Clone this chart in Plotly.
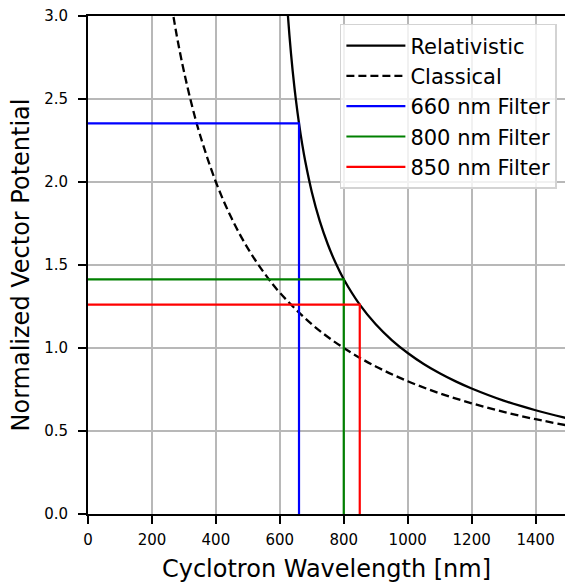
import plotly.graph_objects as go

# Relativistic curve
rel_x = [620, 625, 630, 635, 640, 645, 650, 660, 670, 680, 700, 725, 750, 775, 800,
         850, 900, 950, 1000, 1050, 1100, 1150, 1200, 1300, 1400, 1500]
rel_y = [3.15, 3.01, 2.885, 2.773, 2.673, 2.582, 2.499, 2.353, 2.228, 2.120, 1.940,
         1.764, 1.625, 1.510, 1.414, 1.261, 1.143, 1.048, 0.970, 0.904, 0.848, 0.799,
         0.756, 0.683, 0.625, 0.576]

# Classical curve
cls_x = [255, 267, 280, 300, 325, 350, 400, 450, 500, 550, 600, 700, 800, 900,
         1000, 1100, 1200, 1300, 1400, 1500]
cls_y = [3.137, 3.0, 2.857, 2.667, 2.462, 2.286, 2.0, 1.778, 1.6, 1.455, 1.333,
         1.143, 1.0, 0.889, 0.8, 0.727, 0.667, 0.615, 0.571, 0.533]

# Filters
filter_names = ["660 nm Filter", "800 nm Filter", "850 nm Filter"]
filter_wl = [660, 800, 850]
filter_a = [2.353, 1.414, 1.261]
filter_colors = ["#0000ff", "#008000", "#ff0000"]

x_ticks = [0, 200, 400, 600, 800, 1000, 1200, 1400]
y_ticks = [0.0, 0.5, 1.0, 1.5, 2.0, 2.5, 3.0]

FONT = "DejaVu Sans"

fig = go.Figure()
fig.add_trace(go.Scatter(x=rel_x, y=rel_y, mode="lines", name="Relativistic",
                         line=dict(color="black", width=2.3, shape="spline")))
fig.add_trace(go.Scatter(x=cls_x, y=cls_y, mode="lines", name="Classical",
                         line=dict(color="black", width=2.3, shape="spline",
                                   dash="8px,4px")))
for name, wl, a, c in zip(filter_names, filter_wl, filter_a, filter_colors):
    fig.add_trace(go.Scatter(x=[0, wl, wl], y=[a, a, 0], mode="lines", name=name,
                             line=dict(color=c, width=2.2)))

fig.update_layout(
    width=565, height=583,
    margin=dict(l=88, r=0, t=16, b=69),
    paper_bgcolor="white", plot_bgcolor="white",
    font=dict(family=FONT, color="black", size=15),
    legend=dict(x=0.983, y=0.984, xanchor="right", yanchor="top",
                itemwidth=59,
                bgcolor="rgba(255,255,255,0.8)", bordercolor="#d3d3d3",
                borderwidth=1.5, font=dict(family=FONT, size=21, color="black")),
)
fig.update_xaxes(
    range=[0, 1492], tickvals=x_ticks, ticktext=[str(v) for v in x_ticks],
    showgrid=True, gridcolor="#b8b8b8", gridwidth=2,
    showline=True, linecolor="black", linewidth=2, mirror=True,
    ticks="outside", ticklen=8, tickwidth=2, tickcolor="black",
    ticklabelstandoff=3,
    zeroline=False,
    title=dict(text="Cyclotron Wavelength [nm]", font=dict(family=FONT, size=24), standoff=12),
    tickfont=dict(family=FONT, size=15),
)
fig.update_yaxes(
    range=[0, 3.0], tickvals=y_ticks, ticktext=[f"{v:.1f}" for v in y_ticks],
    showgrid=True, gridcolor="#b8b8b8", gridwidth=2,
    showline=True, linecolor="black", linewidth=2, mirror=False,
    ticks="outside", ticklen=8, tickwidth=2, tickcolor="black",
    ticklabelstandoff=7,
    zeroline=False,
    title=dict(text="Normalized Vector Potential", font=dict(family=FONT, size=24), standoff=8),
    tickfont=dict(family=FONT, size=15),
)

fig.write_html("out.html")
